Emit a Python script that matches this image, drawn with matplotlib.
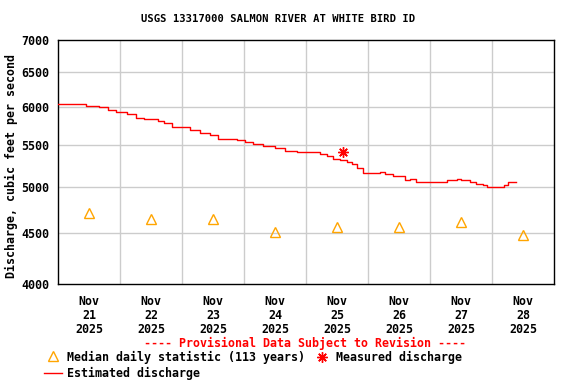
import matplotlib
matplotlib.use('Agg')
import matplotlib.pyplot as plt
from matplotlib.lines import Line2D
from matplotlib.ticker import FixedLocator, NullLocator
import pandas as pd

title = "USGS 13317000 SALMON RIVER AT WHITE BIRD ID"
y_label = "Discharge, cubic feet per second"
start = pd.Timestamp("2025-11-21 00:00")

# Estimated discharge (hours after Nov 21 00:00, cfs), step series
est_hours = [0.0, 10.8, 15.9, 19.4, 22.5, 26.7, 30.2, 33.3, 38.7, 41.0, 44.1,
             51.1, 55.0, 58.8, 61.9, 69.3, 72.4, 75.5, 79.4, 84.0, 87.9, 92.5,
             97.5, 101.4, 104.1, 106.5, 109.2, 111.9, 113.8, 115.7, 118.1,
             124.6, 126.6, 129.7, 134.3, 136.3, 138.6, 150.6, 154.5, 156.0,
             159.5, 161.8, 164.5, 166.1, 172.6, 174.2, 177.3]
est_cfs = [6040, 6020, 6000, 5960, 5930, 5910, 5850, 5840, 5810, 5780, 5740,
           5700, 5660, 5630, 5580, 5570, 5540, 5510, 5490, 5460, 5430, 5420,
           5410, 5390, 5360, 5330, 5320, 5290, 5270, 5220, 5160,
           5170, 5150, 5130, 5080, 5090, 5060, 5080, 5090, 5080,
           5060, 5030, 5020, 5000, 5020, 5050, 5050]

# Median daily statistic (113 years), plotted at noon each day
median_days = ["2025-11-21 12:00", "2025-11-22 12:00", "2025-11-23 12:00",
               "2025-11-24 12:00", "2025-11-25 12:00", "2025-11-26 12:00",
               "2025-11-27 12:00", "2025-11-28 12:00"]
median_cfs = [4710, 4640, 4640, 4510, 4560, 4560, 4610, 4480]

# Measured discharge
meas_time = ["2025-11-25 14:10"]
meas_cfs = [5420]

y_ticks = [4000, 4500, 5000, 5500, 6000, 6500, 7000]
x_grid_days = ["2025-11-22", "2025-11-23", "2025-11-24", "2025-11-25",
               "2025-11-26", "2025-11-27", "2025-11-28"]
x_label_days = median_days
x_labels = ["Nov\n21\n2025", "Nov\n22\n2025", "Nov\n23\n2025", "Nov\n24\n2025",
            "Nov\n25\n2025", "Nov\n26\n2025", "Nov\n27\n2025", "Nov\n28\n2025"]

FONT = dict(family="DejaVu Sans Mono", weight="bold")
W, H = 576, 384

fig = plt.figure(figsize=(5.76, 3.84), dpi=100)
ax = fig.add_axes([58 / W, 1 - 284 / H, 496 / W, 244 / H])

est_t = start + pd.to_timedelta(est_hours, unit="h")
ax.plot(est_t, est_cfs, color="#ff0000", lw=1.0, drawstyle="steps-post", zorder=3)
ax.plot(pd.to_datetime(median_days), median_cfs, linestyle="none", marker="^",
        markersize=6.5, markerfacecolor="none", markeredgecolor="#ffa500",
        markeredgewidth=1.0, zorder=4)
ax.plot(pd.to_datetime(meas_time), meas_cfs, linestyle="none", marker=(8, 2, 0),
        markersize=7.5, color="#ff0000", markeredgewidth=1.0, zorder=5)

ax.set_yscale("log")
ax.set_ylim(4000, 7000)
ax.yaxis.set_major_locator(FixedLocator(y_ticks))
ax.yaxis.set_minor_locator(NullLocator())
ax.set_yticklabels([str(v) for v in y_ticks], fontsize=8.4, **FONT)

ax.set_xlim(start, start + pd.Timedelta(days=8))
ax.set_xticks(pd.to_datetime(x_label_days))
ax.set_xticklabels(x_labels, fontsize=8.4, linespacing=1.1, **FONT)
ax.xaxis.set_minor_locator(NullLocator())
ax.tick_params(axis="both", length=0)
ax.tick_params(axis="y", pad=6)
ax.tick_params(axis="x", pad=8)

for d in pd.to_datetime(x_grid_days):
    ax.axvline(d, color="#cccccc", lw=1, zorder=1)
for v in y_ticks[1:-1]:
    ax.axhline(v, color="#cccccc", lw=1, zorder=1)

for s in ax.spines.values():
    s.set_color("black")
    s.set_linewidth(1)

fig.text(278 / W, 1 - 19 / H, title, ha="center", va="center", fontsize=7.6, **FONT)
fig.text(11 / W, 1 - 166 / H, y_label, rotation=90, ha="center", va="center",
         fontsize=8.4, **FONT)
fig.text(305 / W, 1 - 343 / H, "---- Provisional Data Subject to Revision ----",
         ha="center", va="center", fontsize=8.4, color="#ff0000", **FONT)

# Legend (manual)
fig.add_artist(Line2D([53 / W], [1 - 356 / H], marker="^", markersize=6.5,
                      markerfacecolor="none", markeredgecolor="#ffa500",
                      markeredgewidth=1.0, linestyle="none"))
fig.text(67 / W, 1 - 357 / H, "Median daily statistic (113 years)",
         ha="left", va="center", fontsize=8.4, **FONT)
fig.add_artist(Line2D([322 / W], [1 - 357 / H], marker=(8, 2, 0), markersize=7.5,
                      color="#ff0000", markeredgewidth=1.0, linestyle="none"))
fig.text(336 / W, 1 - 357 / H, "Measured discharge",
         ha="left", va="center", fontsize=8.4, **FONT)
fig.add_artist(Line2D([44 / W, 62 / W], [1 - 373 / H, 1 - 373 / H],
                      color="#ff0000", lw=1.0))
fig.text(67 / W, 1 - 373 / H, "Estimated discharge",
         ha="left", va="center", fontsize=8.4, **FONT)

fig.savefig("out.png", dpi=100)
